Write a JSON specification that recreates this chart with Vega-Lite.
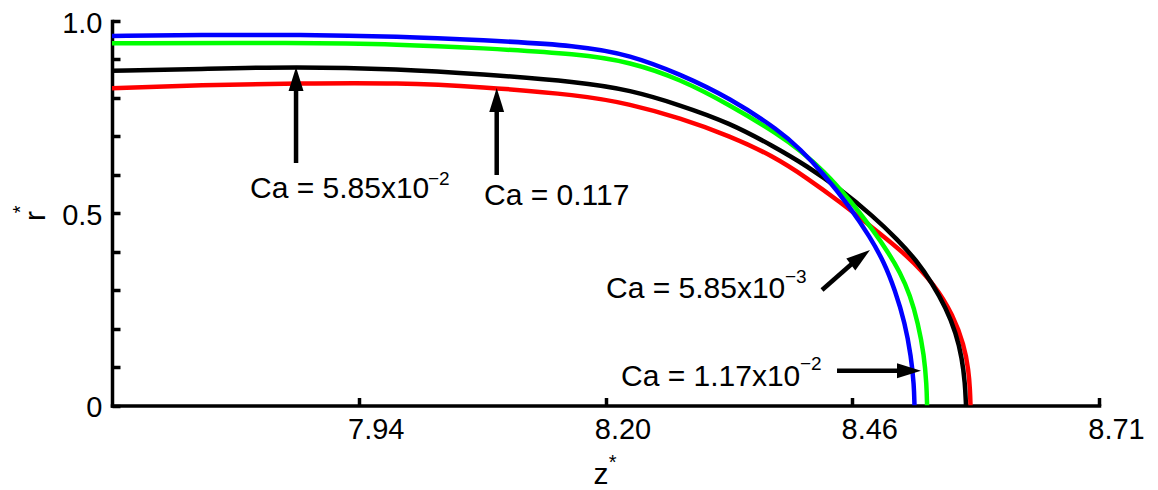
{
  "$schema": "https://vega.github.io/schema/vega-lite/v6.json",
  "width": 987,
  "height": 384.5,
  "autosize": {"type": "none"},
  "padding": {"left": 112, "top": 21, "right": 59, "bottom": 84.5},
  "background": "white",
  "config": {
    "view": {"stroke": null},
    "font": "Liberation Sans",
    "axis": {
      "labelFont": "Liberation Sans",
      "titleFont": "Liberation Sans",
      "labelColor": "black",
      "titleColor": "black",
      "domainColor": "black",
      "tickColor": "black",
      "domainWidth": 3.5,
      "domainCap": "square",
      "tickWidth": 3.5,
      "tickSize": -8,
      "grid": false,
      "labelFontSize": 29,
      "titleFontSize": 30,
      "titleFontWeight": "normal",
      "labelFlush": false,
      "labelOverlap": false
    }
  },
  "datasets": {
    "curves": [
      {"series": "0.117", "z": 7.686, "r": 0.825},
      {"series": "0.117", "z": 7.7776, "r": 0.8336},
      {"series": "0.117", "z": 7.8816, "r": 0.838},
      {"series": "0.117", "z": 7.9857, "r": 0.8395},
      {"series": "0.117", "z": 8.0689, "r": 0.8291},
      {"series": "0.117", "z": 8.173, "r": 0.8075},
      {"series": "0.117", "z": 8.225, "r": 0.7841},
      {"series": "0.117", "z": 8.277, "r": 0.7477},
      {"series": "0.117", "z": 8.329, "r": 0.7009},
      {"series": "0.117", "z": 8.3738, "r": 0.6489},
      {"series": "0.117", "z": 8.4092, "r": 0.5917},
      {"series": "0.117", "z": 8.4435, "r": 0.5293},
      {"series": "0.117", "z": 8.4778, "r": 0.4616},
      {"series": "0.117", "z": 8.5132, "r": 0.3914},
      {"series": "0.117", "z": 8.5424, "r": 0.3134},
      {"series": "0.117", "z": 8.5611, "r": 0.2354},
      {"series": "0.117", "z": 8.5726, "r": 0.1573},
      {"series": "0.117", "z": 8.5773, "r": 0.0923},
      {"series": "0.117", "z": 8.5788, "r": 0.0403},
      {"series": "0.117", "z": 8.5793, "r": 0},
      {"series": "5.85e-2", "z": 7.686, "r": 0.8707},
      {"series": "5.85e-2", "z": 7.7776, "r": 0.8752},
      {"series": "5.85e-2", "z": 7.8764, "r": 0.8811},
      {"series": "5.85e-2", "z": 7.9857, "r": 0.8752},
      {"series": "5.85e-2", "z": 8.0689, "r": 0.8622},
      {"series": "5.85e-2", "z": 8.173, "r": 0.8414},
      {"series": "5.85e-2", "z": 8.225, "r": 0.8205},
      {"series": "5.85e-2", "z": 8.277, "r": 0.7815},
      {"series": "5.85e-2", "z": 8.329, "r": 0.7347},
      {"series": "5.85e-2", "z": 8.3738, "r": 0.6749},
      {"series": "5.85e-2", "z": 8.4092, "r": 0.6229},
      {"series": "5.85e-2", "z": 8.4435, "r": 0.5631},
      {"series": "5.85e-2", "z": 8.4778, "r": 0.4928},
      {"series": "5.85e-2", "z": 8.5028, "r": 0.433},
      {"series": "5.85e-2", "z": 8.5236, "r": 0.3758},
      {"series": "5.85e-2", "z": 8.5392, "r": 0.3186},
      {"series": "5.85e-2", "z": 8.5538, "r": 0.2536},
      {"series": "5.85e-2", "z": 8.5642, "r": 0.1886},
      {"series": "5.85e-2", "z": 8.5704, "r": 0.1235},
      {"series": "5.85e-2", "z": 8.5736, "r": 0.0585},
      {"series": "5.85e-2", "z": 8.5746, "r": 0},
      {"series": "1.17e-2", "z": 7.686, "r": 0.942},
      {"series": "1.17e-2", "z": 7.8816, "r": 0.9436},
      {"series": "1.17e-2", "z": 7.9857, "r": 0.9394},
      {"series": "1.17e-2", "z": 8.0689, "r": 0.9298},
      {"series": "1.17e-2", "z": 8.173, "r": 0.9142},
      {"series": "1.17e-2", "z": 8.225, "r": 0.8934},
      {"series": "1.17e-2", "z": 8.277, "r": 0.8492},
      {"series": "1.17e-2", "z": 8.329, "r": 0.7815},
      {"series": "1.17e-2", "z": 8.3811, "r": 0.7025},
      {"series": "1.17e-2", "z": 8.4019, "r": 0.6632},
      {"series": "1.17e-2", "z": 8.4258, "r": 0.6125},
      {"series": "1.17e-2", "z": 8.4539, "r": 0.5345},
      {"series": "1.17e-2", "z": 8.4778, "r": 0.4564},
      {"series": "1.17e-2", "z": 8.4934, "r": 0.3992},
      {"series": "1.17e-2", "z": 8.5059, "r": 0.3472},
      {"series": "1.17e-2", "z": 8.5164, "r": 0.2874},
      {"series": "1.17e-2", "z": 8.5247, "r": 0.2146},
      {"series": "1.17e-2", "z": 8.531, "r": 0.1313},
      {"series": "1.17e-2", "z": 8.5336, "r": 0.0533},
      {"series": "1.17e-2", "z": 8.5341, "r": 0},
      {"series": "5.85e-3", "z": 7.686, "r": 0.961},
      {"series": "5.85e-3", "z": 7.7776, "r": 0.9636},
      {"series": "5.85e-3", "z": 7.8816, "r": 0.9649},
      {"series": "5.85e-3", "z": 7.9857, "r": 0.9597},
      {"series": "5.85e-3", "z": 8.0689, "r": 0.9506},
      {"series": "5.85e-3", "z": 8.173, "r": 0.9363},
      {"series": "5.85e-3", "z": 8.225, "r": 0.9116},
      {"series": "5.85e-3", "z": 8.277, "r": 0.8622},
      {"series": "5.85e-3", "z": 8.329, "r": 0.7998},
      {"series": "5.85e-3", "z": 8.3811, "r": 0.714},
      {"series": "5.85e-3", "z": 8.4019, "r": 0.6671},
      {"series": "5.85e-3", "z": 8.4258, "r": 0.6047},
      {"series": "5.85e-3", "z": 8.4539, "r": 0.5163},
      {"series": "5.85e-3", "z": 8.4747, "r": 0.4382},
      {"series": "5.85e-3", "z": 8.4893, "r": 0.3732},
      {"series": "5.85e-3", "z": 8.5007, "r": 0.3004},
      {"series": "5.85e-3", "z": 8.5111, "r": 0.2146},
      {"series": "5.85e-3", "z": 8.5174, "r": 0.1287},
      {"series": "5.85e-3", "z": 8.5205, "r": 0.0533},
      {"series": "5.85e-3", "z": 8.521, "r": 0}
    ],
    "shafts": [
      {"z": 7.8775, "r": 0.6307, "z2": 7.8775, "r2": 0.8257},
      {"z": 8.0863, "r": 0.5995, "z2": 8.0863, "r2": 0.7685},
      {"z": 8.4248, "r": 0.3004, "z2": 8.4565, "r2": 0.3698},
      {"z": 8.4404, "r": 0.0905, "z2": 8.506, "r2": 0.0905}
    ],
    "headsUp": [
      {"z": 7.8775, "r": 0.8804},
      {"z": 8.0863, "r": 0.8257}
    ],
    "headsDiag": [
      {"z": 8.4747, "r": 0.4044}
    ],
    "headsRight": [
      {"z": 8.5278, "r": 0.0905}
    ],
    "labels": [
      {"z": 7.8296, "r": 0.5389, "text": "Ca = 5.85x10"},
      {"z": 8.0731, "r": 0.5215, "text": "Ca = 0.117"},
      {"z": 8.2, "r": 0.2788, "text": "Ca = 5.85x10"},
      {"z": 8.2156, "r": 0.0507, "text": "Ca = 1.17x10"}
    ],
    "sups": [
      {"z": 8.0148, "r": 0.5735, "text": "−2"},
      {"z": 8.3863, "r": 0.3178, "text": "−3"},
      {"z": 8.4019, "r": 0.0923, "text": "−2"}
    ],
    "starX": [
      {"z": 8.207, "r": -0.1639, "text": "*"}
    ],
    "starY": [
      {"z": 7.5976, "r": 0.5098, "text": "*"}
    ]
  },
  "encoding": {
    "x": {
      "field": "z",
      "type": "quantitative",
      "scale": {"domain": [7.686, 8.713], "nice": false, "zero": false},
      "axis": {
        "values": [7.94275, 8.1995, 8.45625, 8.713],
        "format": ".2f",
        "labelOffset": 17,
        "labelPadding": 18,
        "title": "z",
        "titleX": 488.5,
        "titleY": 77.5,
        "titleAlign": "center",
        "titleBaseline": "alphabetic"
      }
    },
    "y": {
      "field": "r",
      "type": "quantitative",
      "scale": {"domain": [0, 1], "nice": false, "zero": false},
      "axis": {
        "values": [0, 0.1, 0.2, 0.3, 0.4, 0.5, 0.6, 0.7, 0.8, 0.9, 1],
        "labelExpr": "datum.value === 0 ? '0' : datum.value === 0.5 ? '0.5' : datum.value === 1 ? '1.0' : ''",
        "labelPadding": 18,
        "labelOffset": 2,
        "title": "r",
        "titleAngle": -90,
        "titleX": -68,
        "titleY": 194.5,
        "titleAlign": "center",
        "titleBaseline": "alphabetic"
      }
    }
  },
  "layer": [
    {
      "data": {"name": "curves"},
      "mark": {"type": "line", "strokeWidth": 4.5, "interpolate": "basis", "clip": true},
      "encoding": {
        "color": {
          "field": "series",
          "type": "nominal",
          "scale": {"domain": ["0.117", "5.85e-2", "1.17e-2", "5.85e-3"], "range": ["#ff0000", "#000000", "#00ff00", "#0000ff"]},
          "legend": null
        }
      }
    },
    {
      "data": {"name": "shafts"},
      "mark": {"type": "rule", "strokeWidth": 4.5, "color": "black"},
      "encoding": {
        "x2": {"field": "z2"},
        "y2": {"field": "r2"}
      }
    },
    {
      "data": {"name": "headsUp"},
      "mark": {"type": "point", "shape": "M0,0L0.62,2L-0.62,2Z", "size": 576, "filled": true, "color": "black", "opacity": 1, "strokeWidth": 0}
    },
    {
      "data": {"name": "headsDiag"},
      "mark": {"type": "point", "shape": "M0,0L0.62,2L-0.62,2Z", "size": 576, "angle": 53, "filled": true, "color": "black", "opacity": 1, "strokeWidth": 0}
    },
    {
      "data": {"name": "headsRight"},
      "mark": {"type": "point", "shape": "M0,0L0.62,2L-0.62,2Z", "size": 576, "angle": 90, "filled": true, "color": "black", "opacity": 1, "strokeWidth": 0}
    },
    {
      "data": {"name": "labels"},
      "mark": {"type": "text", "font": "Liberation Sans", "fontSize": 30, "align": "left", "baseline": "alphabetic", "color": "black"},
      "encoding": {"text": {"field": "text"}}
    },
    {
      "data": {"name": "sups"},
      "mark": {"type": "text", "font": "Liberation Sans", "fontSize": 19, "align": "left", "baseline": "alphabetic", "color": "black"},
      "encoding": {"text": {"field": "text"}}
    },
    {
      "data": {"name": "starX"},
      "mark": {"type": "text", "font": "Liberation Sans", "fontSize": 20, "align": "center", "baseline": "alphabetic", "color": "black"},
      "encoding": {"text": {"field": "text"}}
    },
    {
      "data": {"name": "starY"},
      "mark": {"type": "text", "font": "Liberation Sans", "fontSize": 20, "align": "center", "baseline": "alphabetic", "angle": -90, "color": "black"},
      "encoding": {"text": {"field": "text"}}
    }
  ]
}
